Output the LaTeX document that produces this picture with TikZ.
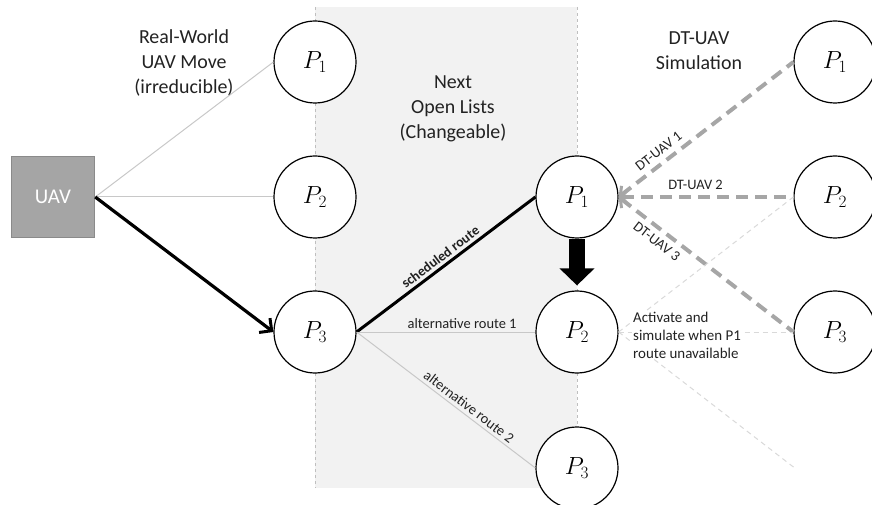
\documentclass[tikz,border=0pt]{standalone}
\usepackage{fontspec}
\setmainfont{Carlito}
\usetikzlibrary{arrows.meta}
\definecolor{panel}{HTML}{F2F2F2}
\definecolor{paneledge}{HTML}{BFBFBF}
\definecolor{uavfill}{HTML}{A5A5A5}
\definecolor{uavedge}{HTML}{8A8A8A}
\definecolor{thingray}{HTML}{C8C8C8}
\definecolor{dtgray}{HTML}{A6A6A6}
\definecolor{dotgray}{HTML}{D9D9D9}
\definecolor{ink}{HTML}{222222}
\tikzset{
  place/.style={circle, draw=black, line width=1.2bp, fill=white,
    minimum size=82bp, inner sep=0pt, font=\fontsize{23}{26}\selectfont},
  uavbox/.style={rectangle, draw=uavedge, line width=1.5bp, fill=uavfill,
    minimum width=83bp, minimum height=81bp, text=white,
    font=\fontsize{21}{24}\selectfont},
  title/.style={align=center, text=ink, font=\fontsize{20}{25}\selectfont},
  note/.style={align=left, text=ink, fill=white, inner sep=1bp,
    font=\fontsize{15}{18}\selectfont},
  routelbl/.style={sloped, text=ink, inner sep=3bp, font=\fontsize{14.5}{16}\selectfont},
  dtlbl/.style={sloped, text=ink, inner sep=5bp, font=\fontsize{14.5}{16}\selectfont},
  thinlink/.style={draw=thingray, line width=1bp},
  mainlink/.style={draw=black, line width=3.2bp},
  dtlink/.style={draw=dtgray, line width=4bp, dash pattern=on 12bp off 7bp,
    {Straight Barb[length=7bp, width=14bp, line width=3bp]}-},
  dotlink/.style={draw=dotgray, line width=1bp, dash pattern=on 5bp off 4bp},
}
\begin{document}
\begin{tikzpicture}[x=1bp, y=-1bp]
\useasboundingbox (0,0) rectangle (872,505);

% shaded column of the next open lists
\fill[panel] (315,7) rectangle (577,488);
\draw[paneledge, line width=0.8bp, dash pattern=on 3bp off 3bp] (315,7) -- (315,488);
\draw[paneledge, line width=0.8bp, dash pattern=on 3bp off 3bp] (577,7) -- (577,488);

% column headings
\node[title] (hreal) at (184,63) {Real-World\\UAV Move\\(irreducible)};
\node[title] (hnext) at (453,109) {Next\\Open Lists\\(Changeable)};
\node[title] (hdt) at (699,51) {DT-UAV\\Simulation};

% nodes
\node[uavbox] (uav) at (53,197) {UAV};
\node[place] (l1) at (315,62) {$P_1$};
\node[place] (l2) at (315,197) {$P_2$};
\node[place] (l3) at (315,332) {$P_3$};
\node[place] (m1) at (577,197) {$P_1$};
\node[place] (m2) at (577,332) {$P_2$};
\node[place] (m3) at (577,468) {$P_3$};
\node[place] (r1) at (835,62) {$P_1$};
\node[place] (r2) at (835,197) {$P_2$};
\node[place] (r3) at (835,332) {$P_3$};
\coordinate (dotend) at (796,469);

% real-world moves
\draw[thinlink] (uav.east) -- (l1.west);
\draw[thinlink] (uav.east) -- (l2.west);
\draw[mainlink, -{Straight Barb[length=9bp, width=18bp, line width=3bp]}] (uav.east) -- (l3.west);

% routes from P3
\draw[mainlink, line width=3bp] (l3.east) -- node[routelbl, above, pos=0.5, font=\fontsize{14}{16}\selectfont\bfseries] {scheduled route} (m1.west);
\draw[thinlink] (l3.east) -- node[routelbl, above, pos=0.59] {alternative route 1} (m2.west);
\draw[thinlink] (l3.east) -- node[routelbl, above, pos=0.6] {alternative route 2} (m3.west);

% switch to the alternative route
\draw[line width=16bp, -{Triangle[length=17bp, width=34bp]}, shorten >=5bp] (m1.south) -- (m2.north);

% digital-twin simulations
\draw[dtlink] (m1.east) -- node[dtlbl, above, pos=0.27] {DT-UAV 1} (r1.west);
\draw[dtlink] (m1.east) -- node[dtlbl, above, pos=0.44] {DT-UAV 2} (r2.west);
\draw[dtlink] (m1.east) -- node[dtlbl, below, pos=0.26] {DT-UAV 3} (r3.west);

% standby simulations from P2
\draw[dotlink] (m2.east) -- (r2.west);
\draw[dotlink] (m2.east) -- (r3.west);
\draw[dotlink] (m2.east) -- (dotend);

\node[note, anchor=west] (act) at (632,335) {Activate and\\simulate when P1\\route unavailable};
\end{tikzpicture}
\end{document}
